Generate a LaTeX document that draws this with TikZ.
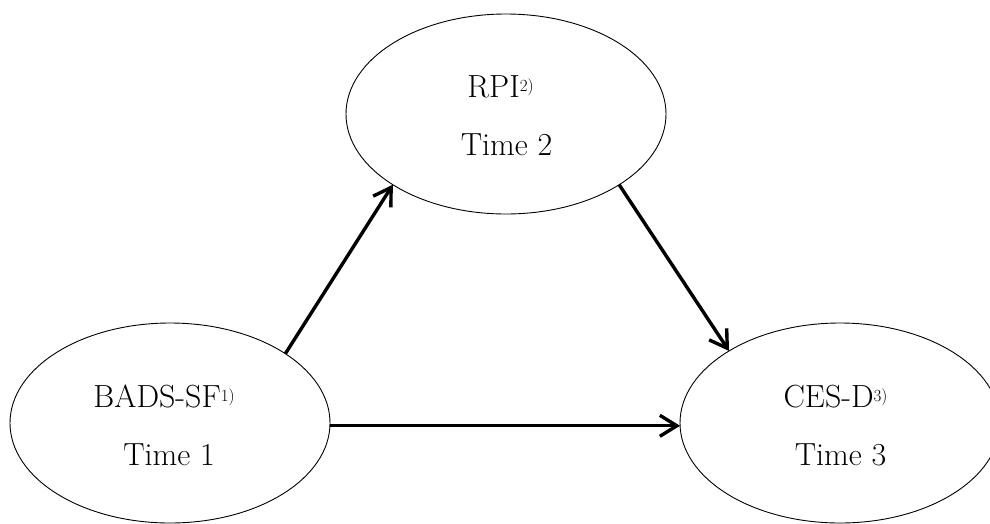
\documentclass[tikz,border=0pt]{standalone}
\usetikzlibrary{arrows.meta,shapes.geometric}
\newcommand{\supnote}[1]{\raisebox{6pt}{\fontsize{17}{17}\selectfont #1}}
\begin{document}
\begin{tikzpicture}[x=1pt,y=1pt,
  var/.style={ellipse, draw, line width=0.9pt, minimum width=320pt, minimum height=200pt,
              inner sep=0pt, outer sep=0pt},
  lbl/.style={anchor=base, inner sep=0pt, font=\fontsize{32}{38}\selectfont},
  effect/.style={line width=3.4pt, -{Straight Barb[length=17pt, width=21pt, line width=3.4pt]}}]
  \clip (0,0) rectangle (990,-523);

  % the three measured variables
  \node[var] (bads) at (170,-423) {};
  \node[var] (rpi)  at (506,-114) {};
  \node[var] (cesd) at (840,-423) {};

  % variable names and measurement occasions
  \node[lbl] (badsname) at (164,-407) {BADS-SF\supnote{1)}};
  \node[lbl] (badstime) at (169,-465) {Time 1};
  \node[lbl] (rpiname)  at (500.5,-97) {RPI\supnote{2)}};
  \node[lbl] (rpitime)  at (506.5,-155) {Time 2};
  \node[lbl] (cesdname) at (835.5,-407) {CES-D\supnote{3)}};
  \node[lbl] (cesdtime) at (840.5,-465) {Time 3};

  % hypothesised paths
  \draw[effect] (bads.31.8) -- (rpi.212.6);
  \draw[effect] (rpi.-32.9) -- (cesd.147.9);
  \draw[effect] (bads.-1) -- (cesd.181);
\end{tikzpicture}
\end{document}
